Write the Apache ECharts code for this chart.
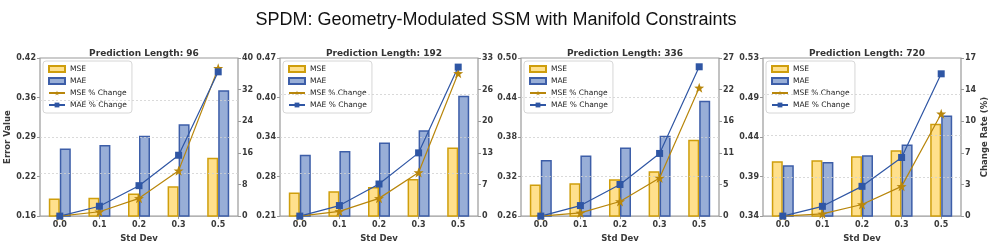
<!DOCTYPE html>
<html>
<head>
<meta charset="utf-8">
<script src="https://cdn.jsdelivr.net/npm/echarts@6/dist/echarts.min.js"></script>
<style>
  html, body { margin: 0; background: #fff; }
  #chart { width: 992px; height: 248px; }
</style>
</head>
<body>
<div id="chart"></div>
<script>
// categories
const stdDevs = ['0.0', '0.1', '0.2', '0.3', '0.5'];
const predLengths = [96, 192, 336, 720];

// error values (left axis)
const mse96 = [0.189, 0.190, 0.197, 0.209, 0.256];
const mae96 = [0.271, 0.277, 0.292, 0.311, 0.367];
const mse192 = [0.249, 0.251, 0.258, 0.271, 0.323];
const mae192 = [0.311, 0.317, 0.331, 0.351, 0.408];
const mse336 = [0.308, 0.310, 0.316, 0.328, 0.376];
const mae336 = [0.345, 0.352, 0.364, 0.382, 0.435];
const mse720 = [0.409, 0.410, 0.415, 0.422, 0.454];
const mae720 = [0.404, 0.408, 0.416, 0.429, 0.464];

// % change (right axis)
const msePct96 = [0, 1.1, 4.5, 11.5, 37.4];
const maePct96 = [0, 2.5, 7.7, 15.4, 36.5];
const msePct192 = [0, 1.0, 3.7, 9.1, 29.8];
const maePct192 = [0, 2.2, 6.7, 13.2, 31.1];
const msePct336 = [0, 0.55, 2.5, 6.5, 21.9];
const maePct336 = [0, 1.8, 5.4, 10.7, 25.5];
const msePct720 = [0, 0.24, 1.25, 3.2, 11.0];
const maePct720 = [0, 1.05, 3.2, 6.3, 15.3];

// tick labels
const errTicks96 = ['0.16', '0.22', '0.29', '0.36', '0.42'];
const errTicks192 = ['0.21', '0.28', '0.34', '0.40', '0.47'];
const errTicks336 = ['0.26', '0.32', '0.38', '0.44', '0.50'];
const errTicks720 = ['0.34', '0.39', '0.44', '0.49', '0.53'];
const errRange96 = [0.16, 0.42];
const errRange192 = [0.21, 0.47];
const errRange336 = [0.26, 0.50];
const errRange720 = [0.343, 0.533];
const pctTicks96 = ['0', '8', '16', '24', '32', '40'];
const pctTicks192 = ['0', '7', '13', '20', '26', '33'];
const pctTicks336 = ['0', '5', '11', '16', '22', '27'];
const pctTicks720 = ['0', '3', '7', '10', '14', '17'];
const pctMax = [40, 33, 27, 17];

const mseSets = [mse96, mse192, mse336, mse720];
const maeSets = [mae96, mae192, mae336, mae720];
const msePctSets = [msePct96, msePct192, msePct336, msePct720];
const maePctSets = [maePct96, maePct192, maePct336, maePct720];
const errTickSets = [errTicks96, errTicks192, errTicks336, errTicks720];
const errRanges = [errRange96, errRange192, errRange336, errRange720];
const pctTickSets = [pctTicks96, pctTicks192, pctTicks336, pctTicks720];

const gridLefts = [40, 280, 521, 763];
const gridW = 198, gridTop = 58, gridH = 163;

const star = 'path://M0,-10L2.35,-3.24L9.51,-3.09L3.8,1.24L5.88,8.09L0,4L-5.88,8.09L-3.8,1.24L-9.51,-3.09L-2.35,-3.24Z';
const tickFont = { fontFamily: 'DejaVu Sans', fontWeight: 'bold', fontSize: 8, color: '#3a3a3a' };
const nameFont = { fontFamily: 'DejaVu Sans', fontWeight: 'bold', fontSize: 8.5, color: '#3a3a3a' };
const spine = '#9a9a9a';

const chart = echarts.init(document.getElementById('chart'), null, { renderer: 'canvas' });

const grid = [], xAxis = [], yAxis = [], series = [], legend = [];
const title = [{
  text: 'SPDM: Geometry-Modulated SSM with Manifold Constraints',
  left: 'center', top: 6,
  textStyle: { fontFamily: 'Liberation Sans', fontWeight: 'normal', fontSize: 18, color: '#111' }
}];

predLengths.forEach((len, i) => {
  const [lo, hi] = errRanges[i];
  const step = (hi - lo) / 4;
  const errVals = errTickSets[i].map((_, k) => (k === 4 ? hi : lo + k * step));
  const pInt = pctMax[i] / 5;

  grid.push({ left: gridLefts[i], top: gridTop, width: gridW, height: gridH,
    show: true, borderColor: spine, borderWidth: 1.2, backgroundColor: 'transparent' });

  title.push({
    text: 'Prediction Length: ' + len,
    left: gridLefts[i] + gridW / 2, top: 44, textAlign: 'center',
    textStyle: { fontFamily: 'DejaVu Sans', fontWeight: 'bold', fontSize: 9, color: '#333' }
  });

  xAxis.push({
    type: 'category', gridIndex: i, data: stdDevs,
    name: 'Std Dev', nameLocation: 'middle', nameGap: 16, nameTextStyle: nameFont,
    axisLine: { show: false },
    axisTick: { show: true, alignWithLabel: true, length: 3, lineStyle: { color: spine } },
    axisLabel: { ...tickFont, margin: 5 },
    splitLine: { show: false }
  });

  yAxis.push({
    type: 'value', gridIndex: i, position: 'left', min: lo, max: hi,
    name: i === 0 ? 'Error Value' : '', nameLocation: 'middle', nameGap: 27, nameTextStyle: nameFont,
    axisLine: { show: false },
    axisTick: { show: true, length: 3, customValues: errVals, lineStyle: { color: spine } },
    axisLabel: { ...tickFont, margin: 4, customValues: errVals, showMaxLabel: true,
      formatter: v => errTickSets[i][Math.round((v - lo) / step)] },
    splitLine: { show: false }
  });
  yAxis.push({
    type: 'value', gridIndex: i, position: 'right', min: 0, max: pctMax[i], interval: pInt,
    name: i === 3 ? 'Change Rate (%)' : '', nameLocation: 'middle', nameGap: 17, nameRotate: 90,
    nameTextStyle: nameFont,
    axisLine: { show: false },
    axisTick: { show: true, length: 3, lineStyle: { color: spine } },
    axisLabel: { ...tickFont, margin: 4, formatter: v => pctTickSets[i][Math.round(v / pInt)] },
    splitLine: { show: false }
  });

  series.push({
    name: 'MSE', type: 'bar', xAxisIndex: i, yAxisIndex: 2 * i,
    data: mseSets[i], barWidth: 11, barGap: '0%',
    itemStyle: { color: '#FFE08C', borderColor: '#CF9E0C', borderWidth: 1.5 },
    markLine: {
      silent: true, symbol: 'none', label: { show: false },
      lineStyle: { color: '#d0d0d0', type: [2, 2], width: 0.8 },
      data: errVals.slice(1, 4).map(v => ({ yAxis: v }))
    }
  });
  series.push({
    name: 'MAE', type: 'bar', xAxisIndex: i, yAxisIndex: 2 * i,
    data: maeSets[i], barWidth: 11, barGap: '0%',
    itemStyle: { color: '#98AED7', borderColor: '#3D5EA8', borderWidth: 1.5 }
  });
  series.push({
    name: 'MSE % Change', type: 'line', xAxisIndex: i, yAxisIndex: 2 * i + 1,
    data: msePctSets[i], symbol: star, symbolSize: 10, z: 5,
    lineStyle: { color: '#B8860B', width: 1.2 }, itemStyle: { color: '#B8860B' }
  });
  series.push({
    name: 'MAE % Change', type: 'line', xAxisIndex: i, yAxisIndex: 2 * i + 1,
    data: maePctSets[i], symbol: 'rect', symbolSize: 7, z: 5,
    lineStyle: { color: '#2F56A4', width: 1.2 }, itemStyle: { color: '#2F56A4' }
  });

  legend.push({
    orient: 'vertical', left: gridLefts[i] + 3, top: gridTop + 3,
    padding: [4, 5], itemGap: 4, itemWidth: 16, itemHeight: 6,
    borderColor: '#d6d6d6', borderWidth: 1, borderRadius: 3,
    backgroundColor: 'rgba(255,255,255,0.85)',
    selectedMode: false,
    textStyle: { fontFamily: 'DejaVu Sans', fontSize: 7.5, color: '#222', lineHeight: 8 },
    data: [{ name: 'MSE', icon: 'rect' }, { name: 'MAE', icon: 'rect' }, 'MSE % Change', 'MAE % Change']
  });
});

chart.setOption({
  animation: false,
  title, grid, xAxis, yAxis, series, legend
});
</script>
</body>
</html>
